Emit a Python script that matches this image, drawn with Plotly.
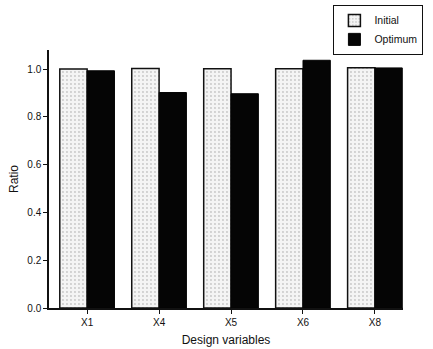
import plotly.graph_objects as go

categories = ["X1", "X4", "X5", "X6", "X8"]
initial = [1.0, 1.003, 1.002, 1.002, 1.006]
optimum = [0.993, 0.902, 0.897, 1.037, 1.005]
y_ticks = [0.0, 0.2, 0.4, 0.6, 0.8, 1.0]

fig = go.Figure()
fig.add_trace(go.Bar(
    x=categories, y=initial, name="Initial",
    marker=dict(color="#f4f4f4", line=dict(color="#111", width=1.5),
                pattern=dict(shape=".", fgcolor="#9a9a9a", size=4, solidity=0.18)),
))
fig.add_trace(go.Bar(
    x=categories, y=optimum, name="Optimum",
    marker=dict(color="#050505", line=dict(color="#050505", width=1)),
))

font = "Liberation Sans, Arial, sans-serif"
fig.update_layout(
    width=433, height=349,
    margin=dict(l=49, r=30, t=50, b=41, autoexpand=False),
    paper_bgcolor="white", plot_bgcolor="white",
    barmode="group", bargap=0.24, bargroupgap=0,
    font=dict(family=font, color="#111", size=10),
    showlegend=True,
    legend=dict(xref="container", yref="container",
                x=0.77, y=0.986, xanchor="left", yanchor="top",
                bordercolor="#111", borderwidth=1, bgcolor="white",
                font=dict(size=10.5, family=font),
                tracegroupgap=0),
    xaxis=dict(
        range=[-0.53, 4.39], showline=True, linecolor="#111", linewidth=1.5,
        ticks="outside", ticklen=4, tickcolor="#111",
        title=dict(text="Design variables", font=dict(size=12), standoff=9),
        tickfont=dict(size=10), showgrid=False, zeroline=False,
    ),
    yaxis=dict(
        range=[0, 1.08], showline=True, linecolor="#111", linewidth=1.5,
        tickvals=y_ticks, ticktext=[f"{v:.1f}" for v in y_ticks],
        ticks="outside", ticklen=4, tickcolor="#111",
        title=dict(text="Ratio", font=dict(size=12), standoff=6),
        tickfont=dict(size=10), showgrid=False, zeroline=False,
    ),
)

fig.write_html("out.html", config={"displayModeBar": False},
               post_script="document.body.style.margin='0';document.body.style.overflow='hidden';")
